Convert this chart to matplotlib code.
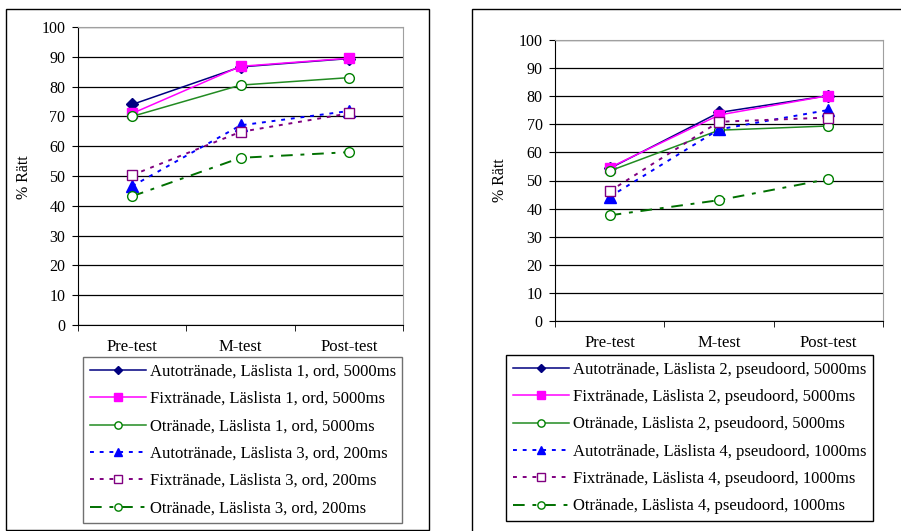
import matplotlib.pyplot as plt
from matplotlib.patches import Rectangle

plt.rcParams['font.family'] = ['Liberation Serif', 'DejaVu Serif']

# Test occasions
tests = ['Pre-test', 'M-test', 'Post-test']

# Ord (real words)
auto_l1 = [74.0, 86.6, 89.4]
fix_l1 = [71.0, 86.8, 89.5]
otr_l1 = [70.0, 80.5, 83.0]
auto_l3 = [46.6, 67.0, 71.8]
fix_l3 = [50.3, 64.8, 71.0]
otr_l3 = [43.2, 56.1, 58.0]

# Pseudoord
auto_l2 = [54.3, 74.2, 80.2]
fix_l2 = [54.6, 73.3, 80.2]
otr_l2 = [53.4, 67.9, 69.4]
auto_l4 = [44.2, 68.2, 75.1]
fix_l4 = [46.2, 70.9, 72.4]
otr_l4 = [37.6, 43.0, 50.5]

labels_left = ['Autotränade, Läslista 1, ord, 5000ms',
               'Fixtränade, Läslista 1, ord, 5000ms',
               'Otränade, Läslista 1, ord, 5000ms',
               'Autotränade, Läslista 3, ord, 200ms',
               'Fixtränade, Läslista 3, ord, 200ms',
               'Otränade, Läslista 3, ord, 200ms']
labels_right = ['Autotränade, Läslista 2, pseudoord, 5000ms',
                'Fixtränade, Läslista 2, pseudoord, 5000ms',
                'Otränade, Läslista 2, pseudoord, 5000ms',
                'Autotränade, Läslista 4, pseudoord, 1000ms',
                'Fixtränade, Läslista 4, pseudoord, 1000ms',
                'Otränade, Läslista 4, pseudoord, 1000ms']

styles = [
    dict(color='#000080', ls='-', marker='D', ms=6, mfc='#000080', mec='#000080', lw=1.1),
    dict(color='#FF00FF', ls='-', marker='s', ms=7, mfc='#FF00FF', mec='#FF00FF', lw=1.1),
    dict(color='#228B22', ls='-', marker='o', ms=7, mfc='white', mec='#008000', lw=1.1),
    dict(color='#0000FF', ls=(0, (2, 3)), marker='^', ms=8, mfc='#0000FF', mec='#0000FF', lw=1.4),
    dict(color='#800080', ls=(0, (2, 3)), marker='s', ms=7, mfc='white', mec='#800080', lw=1.4),
    dict(color='#007000', ls=(0, (6, 4, 2, 4)), marker='o', ms=7, mfc='white', mec='#008000', lw=1.4),
]

W, H = 901, 531
fig = plt.figure(figsize=(W / 100, H / 100), dpi=100)


def fbox(x0, y0, x1, y1):
    # pixel box (top-left origin) -> figure fraction rect
    return [x0 / W, 1 - y1 / H, (x1 - x0) / W, (y1 - y0) / H]


def panel(ax_px, series, labels, ylab_xy, leg_xy, leg_edge):
    ax = fig.add_axes(fbox(*ax_px))
    x = range(len(tests))
    handles = []
    for vals, st in zip(series, styles):
        h, = ax.plot(x, vals, **st)
        handles.append(h)
    ax.set_xlim(-0.5, 2.5)
    ax.set_ylim(0, 100)
    ax.set_yticks(range(0, 101, 10))
    ax.yaxis.grid(True, color='black', lw=0.9)
    ax.set_axisbelow(True)
    ax.set_xticks(list(x))
    ax.set_xticklabels(tests)
    ax.set_xticks([-0.5, 0.5, 1.5, 2.5], minor=True)
    ax.tick_params(axis='x', which='major', length=0, pad=10, labelsize=12)
    ax.tick_params(axis='x', which='minor', length=4, direction='out')
    ax.tick_params(axis='y', length=4, direction='out', pad=5, labelsize=11.5)
    for s in ['top', 'right']:
        ax.spines[s].set_color('#A0A0A0')
    for s in ['left', 'bottom']:
        ax.spines[s].set_color('black')
    fig.text(ylab_xy[0] / W, 1 - ylab_xy[1] / H, '% Rätt', rotation=90,
             ha='center', va='center', fontsize=11.5)
    leg = fig.legend(handles, labels, loc='upper left',
                     bbox_to_anchor=(leg_xy[0] / W, 1 - leg_xy[1] / H),
                     borderaxespad=0, fontsize=12, handlelength=3.35,
                     handletextpad=0.25, labelspacing=0.68, borderpad=0.4,
                     markerscale=0.75, fancybox=False, framealpha=1)
    leg.get_frame().set_edgecolor(leg_edge)
    leg.get_frame().set_linewidth(1.0)
    return ax


# outer frames around each panel
fig.patches.append(Rectangle((6 / W, 1 - 530 / H), 423 / W, 521 / H,
                             transform=fig.transFigure, fill=False,
                             ec='black', lw=1.0))
fig.patches.append(Rectangle((472 / W, -0.05), 0.6, 1 - 9 / H + 0.05,
                             transform=fig.transFigure, fill=False,
                             ec='black', lw=1.0))

panel((78, 27, 403, 325),
      [auto_l1, fix_l1, otr_l1, auto_l3, fix_l3, otr_l3],
      labels_left, (24, 177), (83, 357), '#707070')
panel((555, 40, 883, 321),
      [auto_l2, fix_l2, otr_l2, auto_l4, fix_l4, otr_l4],
      labels_right, (500, 180), (506, 355), 'black')

fig.savefig('out.png', dpi=100)
